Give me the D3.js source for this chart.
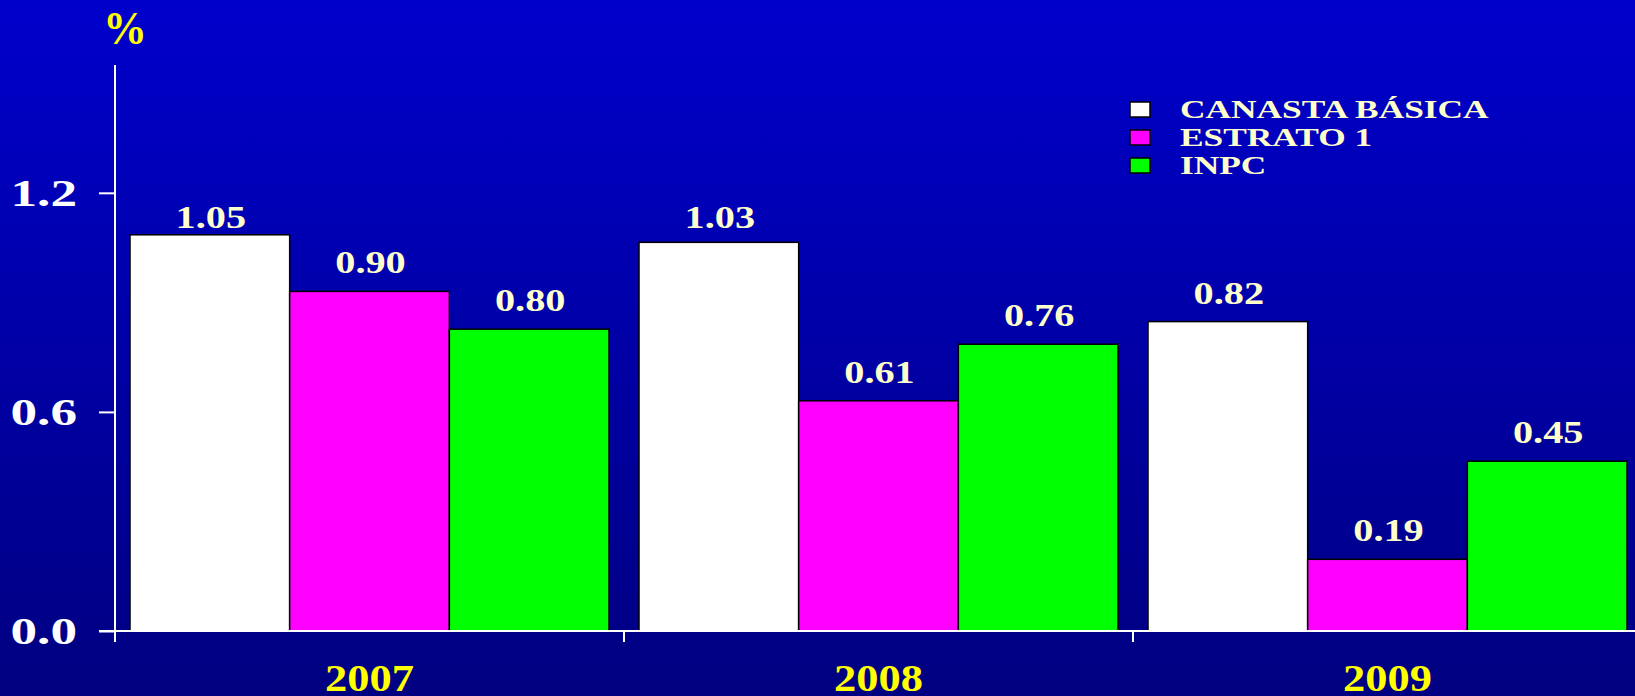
<!DOCTYPE html>
<html>
<head>
<meta charset="utf-8">
<script src="https://cdn.jsdelivr.net/npm/d3@7"></script>
<style>
  html, body { margin: 0; padding: 0; background: #000080; }
  svg { display: block; }
  text { font-family: "Liberation Serif", "Times New Roman", serif; font-weight: bold; }
</style>
</head>
<body>
<svg id="chart" width="1635" height="696"></svg>
<script>
// ---- data ----
const years = ["2007", "2008", "2009"];
const seriesNames = ["CANASTA BÁSICA", "ESTRATO 1", "INPC"];
const canastaBasica = [1.05, 1.03, 0.82];
const estrato1 = [0.90, 0.61, 0.19];
const inpc = [0.80, 0.76, 0.45];
const yTickValues = [0, 0.6, 1.2];
const yTickLabels = ["0.0", "0.6", "1.2"];
const unitLabel = "%";

// ---- styles ----
const W = 1635, H = 696;
const seriesColors = ["#FFFFFF", "#FF00FF", "#00FF00"];
const labelColor = "#FFFFCC";
const yearColor = "#FFFF00";

const svg = d3.select("#chart");
const defs = svg.append("defs");
const grad = defs.append("linearGradient").attr("id", "bg").attr("x1", 0).attr("y1", 0).attr("x2", 0).attr("y2", 1);
grad.append("stop").attr("offset", "0%").attr("stop-color", "#0000CC");
grad.append("stop").attr("offset", "100%").attr("stop-color", "#000080");
svg.append("rect").attr("width", W).attr("height", H).attr("fill", "url(#bg)");

const plotLeft = 115, plotTop = 65, baseY = 631;
const table = years.map((y, i) => ({ year: y, values: [canastaBasica[i], estrato1[i], inpc[i]] }));

const x0 = d3.scaleBand().domain(years).range([plotLeft, plotLeft + 509 * years.length]).padding(0);
const groupPad = 15;
const x1 = d3.scaleBand().domain(seriesNames).range([groupPad, x0.bandwidth() - groupPad]).padding(0);
// bar scale and the (slightly different) printed axis scale of the reference
const yBar = d3.scaleLinear().domain([0, 1.5]).range([baseY, plotTop]);
const yAxisScale = d3.scaleLinear().domain([0, 1.55]).range([baseY, plotTop]);

// bars
const groups = svg.append("g").selectAll("g").data(table).join("g")
  .attr("transform", d => `translate(${x0(d.year)},0)`);
groups.selectAll("rect").data(d => d.values.map((v, j) => ({ v, j })))
  .join("rect")
  .attr("x", d => x1(seriesNames[d.j]))
  .attr("y", d => yBar(d.v))
  .attr("width", x1.bandwidth())
  .attr("height", d => yBar(0) - yBar(d.v))
  .attr("fill", d => seriesColors[d.j])
  .attr("stroke", "#000")
  .attr("stroke-width", 1.5);

// value labels
groups.selectAll("text.val").data(d => d.values.map((v, j) => ({ v, j })))
  .join("text").attr("class", "val")
  .attr("transform", d => `translate(${x1(seriesNames[d.j]) + x1.bandwidth() / 2 + 1},${Math.max(yBar(d.v) - 18, 228)}) scale(1.3,1)`)
  .attr("text-anchor", "middle")
  .attr("font-size", 31)
  .attr("fill", labelColor)
  .text(d => d.v.toFixed(2));

// y axis
const yAxisG = svg.append("g").attr("transform", `translate(${plotLeft},0)`)
  .call(d3.axisLeft(yAxisScale).tickValues(yTickValues).tickSize(16).tickSizeOuter(0)
    .tickFormat((d, i) => yTickLabels[i]));
yAxisG.select(".domain").remove();
yAxisG.selectAll(".tick line").attr("stroke", "#fff").attr("stroke-width", 2);
yAxisG.selectAll(".tick text")
  .attr("x", null).attr("dy", "0.34em")
  .attr("transform", `translate(-38,0) scale(1.4,1)`)
  .attr("text-anchor", "end")
  .attr("font-size", 38)
  .attr("font-family", "Liberation Serif, serif")
  .attr("fill", "#fff");
yAxisG.append("line").attr("x1", 0).attr("x2", 0).attr("y1", plotTop).attr("y2", baseY + 11)
  .attr("stroke", "#fff").attr("stroke-width", 2);

// x axis
const xAxisG = svg.append("g").attr("transform", `translate(0,${baseY})`)
  .call(d3.axisBottom(x0).tickSize(0).tickSizeOuter(0));
xAxisG.select(".domain").remove();
xAxisG.append("line").attr("x1", plotLeft - 16).attr("x2", W).attr("y1", 0).attr("y2", 0)
  .attr("stroke", "#fff").attr("stroke-width", 2);
xAxisG.selectAll(".sep").data(years).join("line").attr("class", "sep")
  .attr("x1", d => x0(d) + x0.bandwidth()).attr("x2", d => x0(d) + x0.bandwidth())
  .attr("y1", 0).attr("y2", 11).attr("stroke", "#fff").attr("stroke-width", 2);
xAxisG.selectAll(".tick text")
  .attr("y", null).attr("dy", null)
  .attr("transform", `translate(0,60) scale(1.2,1)`)
  .attr("font-size", 37)
  .attr("font-family", "Liberation Serif, serif")
  .attr("fill", yearColor);

// unit label
svg.append("text")
  .attr("transform", `translate(125,44) scale(0.95,1)`)
  .attr("text-anchor", "middle").attr("font-size", 46).attr("fill", yearColor)
  .text(unitLabel);

// legend
const legend = svg.append("g").selectAll("g").data(seriesNames).join("g")
  .attr("transform", (d, i) => `translate(1130,${118 + i * 28})`);
legend.append("rect").attr("x", 0).attr("y", -16).attr("width", 20).attr("height", 15)
  .attr("fill", (d, i) => seriesColors[i]).attr("stroke", "#000").attr("stroke-width", 1.5);
legend.append("text")
  .attr("transform", `translate(50,0) scale(1.36,1)`)
  .attr("font-size", 26).attr("fill", labelColor)
  .text(d => d);
</script>
</body>
</html>
